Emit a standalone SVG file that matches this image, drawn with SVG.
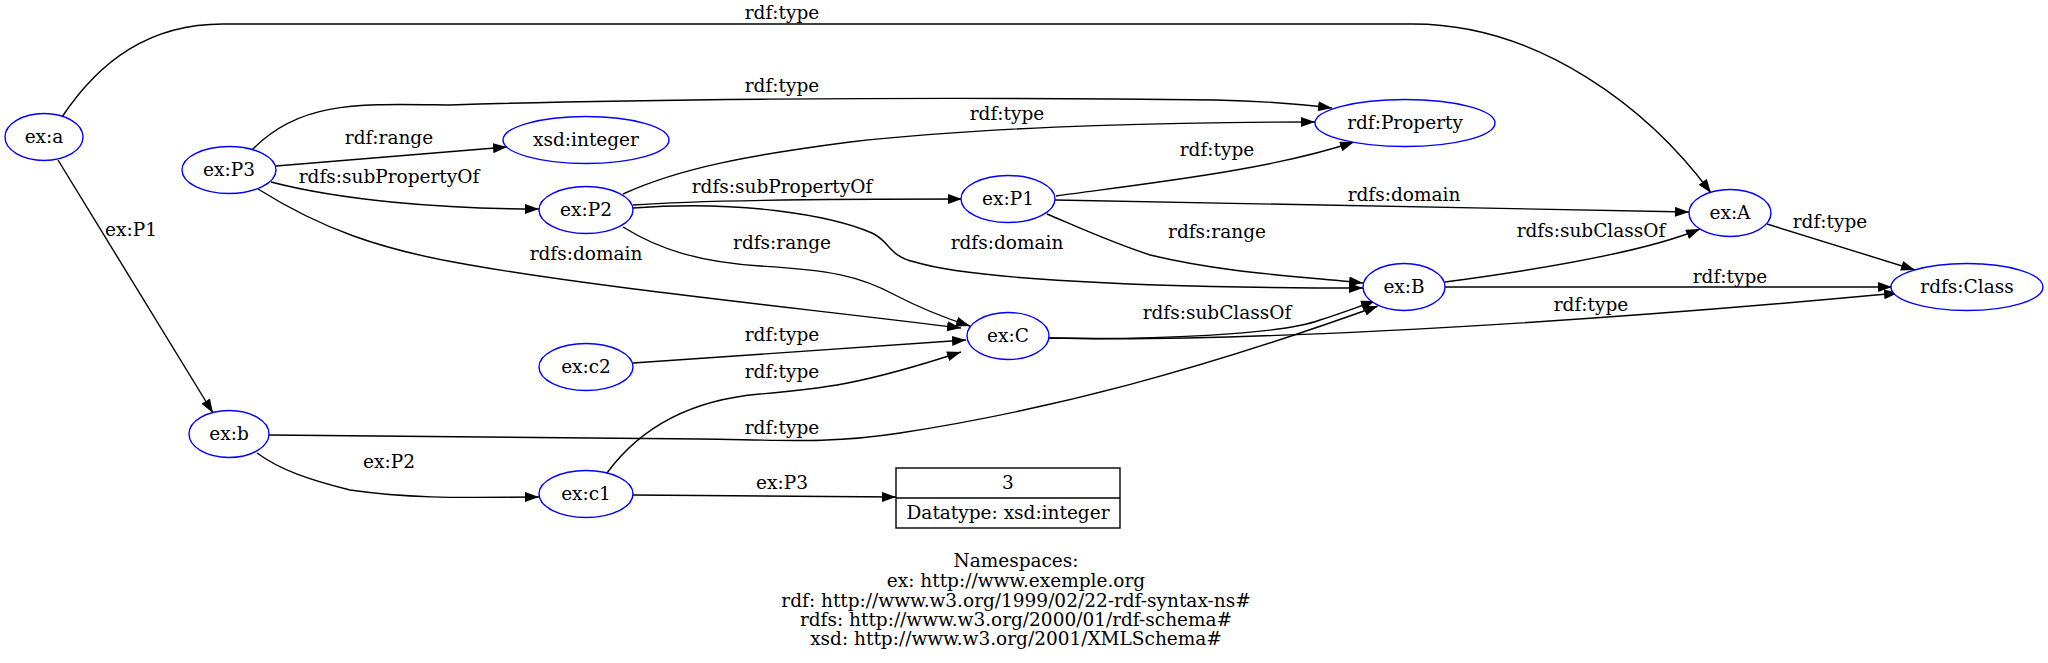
<svg xmlns="http://www.w3.org/2000/svg" width="2048" height="663" viewBox="0 0 2048 663">
<style>
text{font-family:"DejaVu Serif","Liberation Serif",serif;font-size:18.5px;fill:#000;text-anchor:middle}
.n ellipse{fill:#fff;stroke:#0000ff;stroke-width:1.4}
.e path{fill:none;stroke:#000;stroke-width:1.4;marker-end:url(#ah)}
.lit rect,.lit line{fill:#fff;stroke:#000;stroke-width:1.4}
</style>
<defs>
<marker id="ah" markerUnits="userSpaceOnUse" markerWidth="15" markerHeight="11" refX="14" refY="5" orient="auto" viewBox="0 0 15 11">
<path d="M0,0 L14,5 L0,10 z" fill="#000"/>
</marker>
</defs>
<rect width="2048" height="663" fill="#fff"/>
<g id="connectors" class="e">
<path d="M62,117 C100,60 150,24 223,24 L1413,24 C1540,24 1650,110 1711,193"/>
<path d="M252,150 C300,100 360,104 450,105 C600,100 900,96 1216,100 C1260,101 1300,104 1332,108"/>
<path d="M276,166 L507,147"/>
<path d="M271,182 C340,200 440,209 539,209"/>
<path d="M258,189 C320,228 380,250 470,265 C600,288 800,308 961,328"/>
<path d="M623,194 C680,168 750,155 850,142 C1000,125 1200,122 1315,122"/>
<path d="M633,205 C700,200 850,199 962,199"/>
<path d="M633,208 C740,200 830,215 872,233 C890,241 888,256 915,262 C960,276 1100,288 1363,288"/>
<path d="M623,227 C660,250 700,262 760,266 C830,270 860,276 895,295 C920,308 945,318 970,326"/>
<path d="M1056,196 C1150,183 1270,170 1354,142"/>
<path d="M1055,200 C1300,205 1500,210 1689,212"/>
<path d="M1047,214 C1080,228 1110,242 1150,255 C1230,274 1300,276 1363,283"/>
<path d="M1767,224 L1915,270"/>
<path d="M1445,282 C1550,268 1650,250 1700,229"/>
<path d="M1445,287 L1892,287"/>
<path d="M1049,338 C1200,342 1500,330 1898,293"/>
<path d="M1049,338 C1150,340 1280,335 1320,320 C1345,312 1360,306 1375,301"/>
<path d="M269,435 L700,439 C780,440 830,444 900,433 C1050,410 1200,370 1378,306"/>
<path d="M257,453 C280,470 310,480 350,490 C420,500 480,497 539,497"/>
<path d="M607,473 C640,428 690,400 760,394 C820,389 860,385 961,352"/>
<path d="M633,363 L966,340"/>
<path d="M633,495 L896,497"/>
<path d="M58,160 L213,413"/>
</g>
<g id="edge-labels">
<text x="782" y="19">rdf:type</text>
<text x="782" y="92">rdf:type</text>
<text x="389" y="144">rdf:range</text>
<text x="389" y="183">rdfs:subPropertyOf</text>
<text x="586" y="260">rdfs:domain</text>
<text x="1007" y="120">rdf:type</text>
<text x="782" y="193">rdfs:subPropertyOf</text>
<text x="1007" y="249">rdfs:domain</text>
<text x="782" y="249">rdfs:range</text>
<text x="1217" y="156">rdf:type</text>
<text x="1404" y="201">rdfs:domain</text>
<text x="1217" y="238">rdfs:range</text>
<text x="1830" y="228">rdf:type</text>
<text x="1591" y="237">rdfs:subClassOf</text>
<text x="1730" y="283">rdf:type</text>
<text x="1591" y="311">rdf:type</text>
<text x="1217" y="319">rdfs:subClassOf</text>
<text x="782" y="434">rdf:type</text>
<text x="389" y="468">ex:P2</text>
<text x="782" y="378">rdf:type</text>
<text x="782" y="341">rdf:type</text>
<text x="782" y="489">ex:P3</text>
<text x="131" y="236">ex:P1</text>
</g>
<g id="n-ex-a" class="n"><ellipse cx="44" cy="137" rx="39" ry="23.5"/><text x="44" y="143">ex:a</text></g>
<g id="n-ex-P3" class="n"><ellipse cx="229" cy="170" rx="47" ry="23.5"/><text x="229" y="176">ex:P3</text></g>
<g id="n-xsd-integer" class="n"><ellipse cx="586" cy="140" rx="83" ry="23.5"/><text x="586" y="146">xsd:integer</text></g>
<g id="n-ex-P2" class="n"><ellipse cx="586" cy="210" rx="47" ry="23.5"/><text x="586" y="216">ex:P2</text></g>
<g id="n-ex-P1" class="n"><ellipse cx="1008" cy="199" rx="47" ry="23.5"/><text x="1008" y="205">ex:P1</text></g>
<g id="n-rdf-Property" class="n"><ellipse cx="1405" cy="123" rx="90" ry="23.5"/><text x="1405" y="129">rdf:Property</text></g>
<g id="n-ex-A" class="n"><ellipse cx="1730" cy="213" rx="41" ry="23.5"/><text x="1730" y="219">ex:A</text></g>
<g id="n-ex-B" class="n"><ellipse cx="1404" cy="287" rx="41" ry="23.5"/><text x="1404" y="293">ex:B</text></g>
<g id="n-rdfs-Class" class="n"><ellipse cx="1967" cy="287" rx="76" ry="23.5"/><text x="1967" y="293">rdfs:Class</text></g>
<g id="n-ex-C" class="n"><ellipse cx="1008" cy="336" rx="41" ry="23.5"/><text x="1008" y="342">ex:C</text></g>
<g id="n-ex-c2" class="n"><ellipse cx="586" cy="367" rx="47" ry="23.5"/><text x="586" y="373">ex:c2</text></g>
<g id="n-ex-b" class="n"><ellipse cx="229" cy="434" rx="40" ry="23.5"/><text x="229" y="440">ex:b</text></g>
<g id="n-ex-c1" class="n"><ellipse cx="586" cy="494" rx="47" ry="23.5"/><text x="586" y="500">ex:c1</text></g>
<g id="n-literal" class="lit"><rect x="896" y="468" width="224" height="60"/><line x1="896" y1="498" x2="1120" y2="498"/><text x="1008" y="489">3</text><text x="1008" y="519">Datatype: xsd:integer</text></g>
<g id="namespaces">
<text x="1016" y="567">Namespaces:</text>
<text x="1016" y="587">ex: http://www.exemple.org</text>
<text x="1016" y="607">rdf: http://www.w3.org/1999/02/22-rdf-syntax-ns#</text>
<text x="1016" y="626">rdfs: http://www.w3.org/2000/01/rdf-schema#</text>
<text x="1016" y="645">xsd: http://www.w3.org/2001/XMLSchema#</text>
</g>
</svg>
